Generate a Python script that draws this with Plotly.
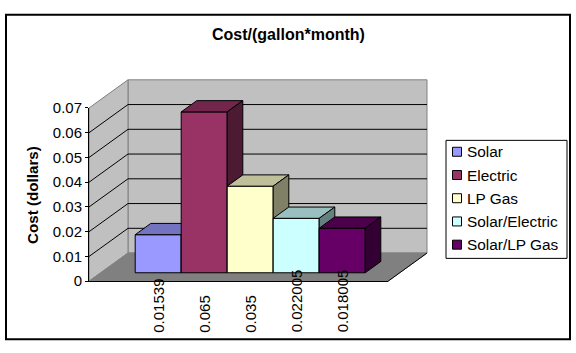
import plotly.graph_objects as go

# ---------------- data ----------------
categories = ["Solar", "Electric", "LP Gas", "Solar/Electric", "Solar/LP Gas"]
values = [0.01539, 0.065, 0.035, 0.022005, 0.018005]
value_labels = ["0.01539", "0.065", "0.035", "0.022005", "0.018005"]
front_colors = ["#9999FF", "#993366", "#FFFFCC", "#CCFFFF", "#660066"]
y_ticks = [0, 0.01, 0.02, 0.03, 0.04, 0.05, 0.06, 0.07]
y_ticktext = ["0", "0.01", "0.02", "0.03", "0.04", "0.05", "0.06", "0.07"]

# ---------------- geometry / style ----------------
W, H = 576, 353
FONT = "Liberation Sans, Arial, sans-serif"
PX_X = 46.0          # pixels per bar-slot unit
PX_Y = 2600.0        # pixels per dollar
ORIGIN_PX = (89.0, 286.0)   # front-left-bottom corner of the 3D box
X0, X1 = -1.25, 5.25        # front plane extent (category units)
YMAX = 0.07
DX = 39.0 / PX_X            # depth offset in x units
DY = 29.6 / PX_Y            # depth offset in y units
BAR_FRONT, BAR_BACK = 0.3, 0.7

# legend box (pixels)
LEG_L, LEG_R, LEG_T, LEG_B = 446, 567, 138, 262
LEG_ROW0, LEG_STEP = 150, 24.4
LEG_MARK_X, LEG_TEXT_X = 457, 467

def px_to_x(px):
    return (px - ORIGIN_PX[0]) / PX_X + X0

def py_to_y(py):
    return (ORIGIN_PX[1] - py) / PX_Y

def shade(hexcol, f):
    h = hexcol.lstrip("#")
    r, g, b = (int(h[i:i + 2], 16) for i in (0, 2, 4))
    return "#%02X%02X%02X" % (round(r * f), round(g * f), round(b * f))

def poly(xs, ys, fill, line_color, line_width=1):
    return go.Scatter(x=xs + [xs[0]], y=ys + [ys[0]], mode="lines", fill="toself",
                      fillcolor=fill, line=dict(color=line_color, width=line_width),
                      hoverinfo="skip", showlegend=False, xaxis="x", yaxis="y")

fig = go.Figure()

# back wall
fig.add_trace(poly([X0 + DX, X1 + DX, X1 + DX, X0 + DX],
                   [DY, DY, YMAX + DY, YMAX + DY], "#C0C0C0", "#808080"))
# side wall
fig.add_trace(poly([X0, X0 + DX, X0 + DX, X0],
                   [0, DY, YMAX + DY, YMAX], "#C0C0C0", "#808080"))
# floor
fig.add_trace(poly([X0, X1, X1 + DX, X0 + DX],
                   [0, 0, DY, DY], "#808080", "#808080"))
fig.add_trace(go.Scatter(x=[X1, X1 + DX], y=[0, DY], mode="lines",
                         line=dict(color="black", width=1), hoverinfo="skip",
                         showlegend=False))

# gridlines (side wall diagonal + back wall)
gx, gy = [], []
for v in y_ticks[1:-1]:
    gx += [X0, X0 + DX, X1 + DX, None]
    gy += [v, v + DY, v + DY, None]
fig.add_trace(go.Scatter(x=gx, y=gy, mode="lines", line=dict(color="black", width=1),
                         hoverinfo="skip", showlegend=False))

# 3D bars
fx, fy = BAR_FRONT * DX, BAR_FRONT * DY
bx, by = (BAR_BACK - BAR_FRONT) * DX, (BAR_BACK - BAR_FRONT) * DY
for i, (v, col) in enumerate(zip(values, front_colors)):
    xl, xr = i - 0.5 + fx, i + 0.5 + fx
    b, t = fy, fy + v
    # front
    fig.add_trace(poly([xl, xr, xr, xl], [b, b, t, t], col, "black"))
    # top
    fig.add_trace(poly([xl, xr, xr + bx, xl + bx], [t, t, t + by, t + by],
                       shade(col, 0.75), "black"))
    # side
    fig.add_trace(poly([xr, xr + bx, xr + bx, xr], [b, b + by, t + by, t],
                       shade(col, 0.5), "black"))

# legend: markers
fig.add_trace(go.Scatter(
    x=[px_to_x(LEG_MARK_X)] * len(categories),
    y=[py_to_y(LEG_ROW0 + k * LEG_STEP) for k in range(len(categories))],
    mode="markers", showlegend=False, hoverinfo="skip", text=categories,
    marker=dict(symbol="square", size=9, color=front_colors,
                line=dict(color="black", width=1))))

# axes subplot for the front plane (ticks and axis lines)
fig.add_trace(go.Scatter(x=[None], y=[None], xaxis="x2", yaxis="y2",
                         showlegend=False, hoverinfo="skip"))

annotations = []
# category (value) labels under bars
for i, lab in enumerate(value_labels):
    annotations.append(dict(x=i + fx, y=py_to_y(342), xref="x", yref="y",
                            text=lab, textangle=-90, showarrow=False,
                            xanchor="center", yanchor="bottom",
                            font=dict(family=FONT, size=15, color="black")))
# legend labels
for k, name in enumerate(categories):
    annotations.append(dict(x=px_to_x(LEG_TEXT_X), y=py_to_y(LEG_ROW0 + k * LEG_STEP),
                            xref="x", yref="y", text=name, showarrow=False,
                            xanchor="left", yanchor="middle", borderpad=0,
                            xshift=-1,
                            font=dict(family=FONT, size=15.4, color="black")))
annotations.append(dict(x=0.5, y=(H - 27) / H, xref="paper", yref="paper",
                        text="<b>Cost/(gallon*month)</b>", showarrow=False,
                        xanchor="center", yanchor="middle",
                        font=dict(family=FONT, size=16, color="black")))
annotations.append(dict(x=32.5 / W, y=(H - 196) / H, xref="paper", yref="paper",
                        text="<b>Cost (dollars)</b>", showarrow=False, textangle=-90,
                        xanchor="center", yanchor="middle",
                        font=dict(family=FONT, size=15.2, color="black")))

fig.update_layout(
    width=W, height=H,
    margin=dict(l=0, r=0, t=0, b=0),
    paper_bgcolor="white", plot_bgcolor="rgba(0,0,0,0)",
    font=dict(family=FONT, size=15, color="black"),
    xaxis=dict(range=[px_to_x(0), px_to_x(W)], domain=[0, 1], visible=False,
               fixedrange=True),
    yaxis=dict(range=[py_to_y(H), py_to_y(0)], domain=[0, 1], visible=False,
               fixedrange=True),
    xaxis2=dict(domain=[ORIGIN_PX[0] / W, (ORIGIN_PX[0] + (X1 - X0) * PX_X) / W],
                range=[X0, X1], anchor="y2", showline=True, linecolor="black",
                linewidth=1, showticklabels=False, ticks="", showgrid=False,
                zeroline=False, fixedrange=True),
    yaxis2=dict(domain=[(H - ORIGIN_PX[1]) / H, (H - ORIGIN_PX[1] + YMAX * PX_Y) / H],
                range=[0, YMAX], anchor="x2", showline=True, linecolor="black",
                linewidth=1, tickvals=y_ticks, ticktext=y_ticktext, ticks="outside",
                ticklen=3, tickcolor="black", showgrid=False, zeroline=False,
                tickfont=dict(family=FONT, size=15, color="black"), fixedrange=True),
    showlegend=False,
    annotations=annotations,
    shapes=[
        dict(type="rect", xref="paper", yref="paper",
             x0=6 / W, x1=570 / W, y0=(H - 347) / H, y1=(H - 6) / H,
             line=dict(color="black", width=2), fillcolor="rgba(0,0,0,0)",
             layer="above"),
        dict(type="rect", xref="paper", yref="paper",
             x0=LEG_L / W, x1=LEG_R / W, y0=(H - LEG_B) / H, y1=(H - LEG_T) / H,
             line=dict(color="black", width=1), fillcolor="white", layer="below"),
    ],
)

fig.write_html("out.html")
